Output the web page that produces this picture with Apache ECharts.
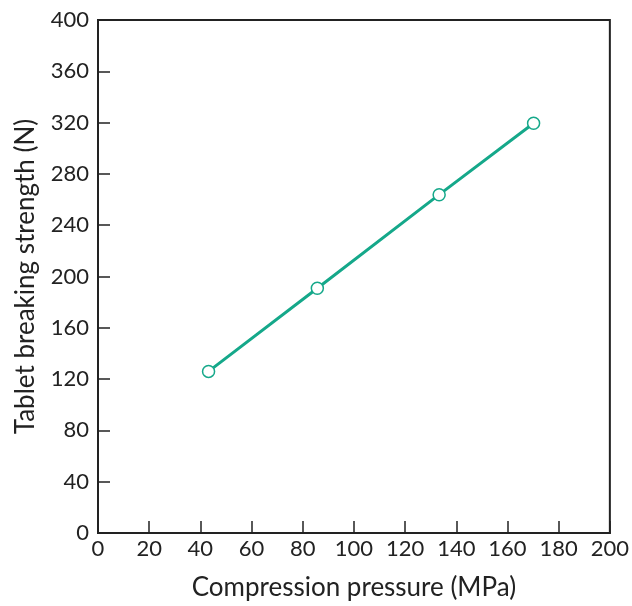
<!DOCTYPE html>
<html><head><meta charset="utf-8">
<script src="https://cdn.jsdelivr.net/npm/echarts@6/dist/echarts.min.js"></script>
<style>html,body{margin:0;padding:0;background:#fff}#c{width:632px;height:606px}</style>
</head><body><div id="c"></div>
<script>
var pressure = [43.2, 85.7, 133.3, 170.2];
var strength = [126, 190.8, 263.8, 319.5];
var xTitle = 'Compression pressure (MPa)';
var yTitle = 'Tablet breaking strength (N)';
var font = 'Lato, "Open Sans", sans-serif';
var chart = echarts.init(document.getElementById('c'));
chart.setOption({
  animation: false,
  grid: {left: 98, right: 20, top: 20, bottom: 73, show: true, borderColor: '#222', borderWidth: 2, backgroundColor: 'transparent'},
  xAxis: {type: 'value', min: 0, max: 200, interval: 20,
    name: xTitle, nameLocation: 'middle', nameGap: 42,
    nameTextStyle: {fontSize: 26, color: '#222', fontFamily: font},
    axisLine: {show: true, lineStyle: {color: '#222', width: 2}},
    axisTick: {show: true, inside: true, length: 12, lineStyle: {color: '#222', width: 1.5}},
    axisLabel: {fontSize: 22, color: '#222', fontFamily: font, margin: 5},
    splitLine: {show: false}},
  yAxis: {type: 'value', min: 0, max: 400, interval: 40,
    name: yTitle, nameLocation: 'middle', nameGap: 59,
    nameTextStyle: {fontSize: 26, color: '#222', fontFamily: font},
    axisLine: {show: true, lineStyle: {color: '#222', width: 2}},
    axisTick: {show: true, inside: true, length: 12, lineStyle: {color: '#222', width: 1.5}},
    axisLabel: {fontSize: 22, color: '#222', fontFamily: font, margin: 9},
    splitLine: {show: false}},
  series: [{type: 'line', data: pressure.map(function(x, i){return [x, strength[i]];}),
    lineStyle: {color: '#15a88a', width: 3},
    symbol: 'circle', symbolSize: 12,
    itemStyle: {color: '#fff', borderColor: '#15a88a', borderWidth: 1.5}}]
});
</script></body></html>
